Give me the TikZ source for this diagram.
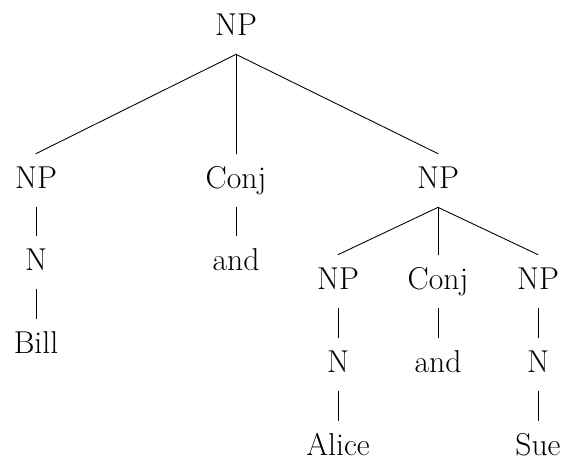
\documentclass[tikz,border=0pt]{standalone}
\usetikzlibrary{calc}
\tikzset{
    lab/.style={
        font=\fontsize{18}{22}\selectfont,
        anchor=base,
        text height=0.44cm, text depth=0.14cm,
        inner xsep=2pt, inner ysep=0.24cm
    },
    branch/.style={line width=0.5pt}
}

\begin{document}
\begin{tikzpicture}[x=0.02cm,y=-0.02cm,line cap=round,line join=round]

% frame of the picture
    \useasboundingbox (0,0) rectangle (568,458);

% --- top level ---
    \node[lab] (root)  at (236,35)  {NP};
    \node[lab] (np1)   at (36,188)  {NP};
    \node[lab] (conj1) at (236,188) {Conj};
    \node[lab] (np2)   at (438,188) {NP};

% left conjunct
    \node[lab] (n1)    at (36,270)  {N};
    \node[lab] (bill)  at (36,353)  {Bill};

% middle
    \node[lab] (and1)  at (236,270) {and};

% right conjunct
    \node[lab] (np3)   at (338,289) {NP};
    \node[lab] (conj2) at (438,289) {Conj};
    \node[lab] (np4)   at (538,289) {NP};
    \node[lab] (n3)    at (338,372) {N};
    \node[lab] (and2)  at (438,372) {and};
    \node[lab] (n4)    at (538,372) {N};
    \node[lab] (alice) at (338,455) {Alice};
    \node[lab] (sue)   at (538,455) {Sue};

% branches
    \draw[branch] (np1.north) -- (root.south) -- (np2.north);
    \draw[branch] (root.south) -- (conj1.north);
    \draw[branch] (np1.south) -- (n1.north);
    \draw[branch] (n1.south) -- (bill.north);
    \draw[branch] (conj1.south) -- (and1.north);
    \draw[branch] (np3.north) -- (np2.south) -- (np4.north);
    \draw[branch] (np2.south) -- (conj2.north);
    \draw[branch] (np3.south) -- (n3.north);
    \draw[branch] (n3.south) -- (alice.north);
    \draw[branch] (conj2.south) -- (and2.north);
    \draw[branch] (np4.south) -- (n4.north);
    \draw[branch] (n4.south) -- (sue.north);

\end{tikzpicture}
\end{document}
